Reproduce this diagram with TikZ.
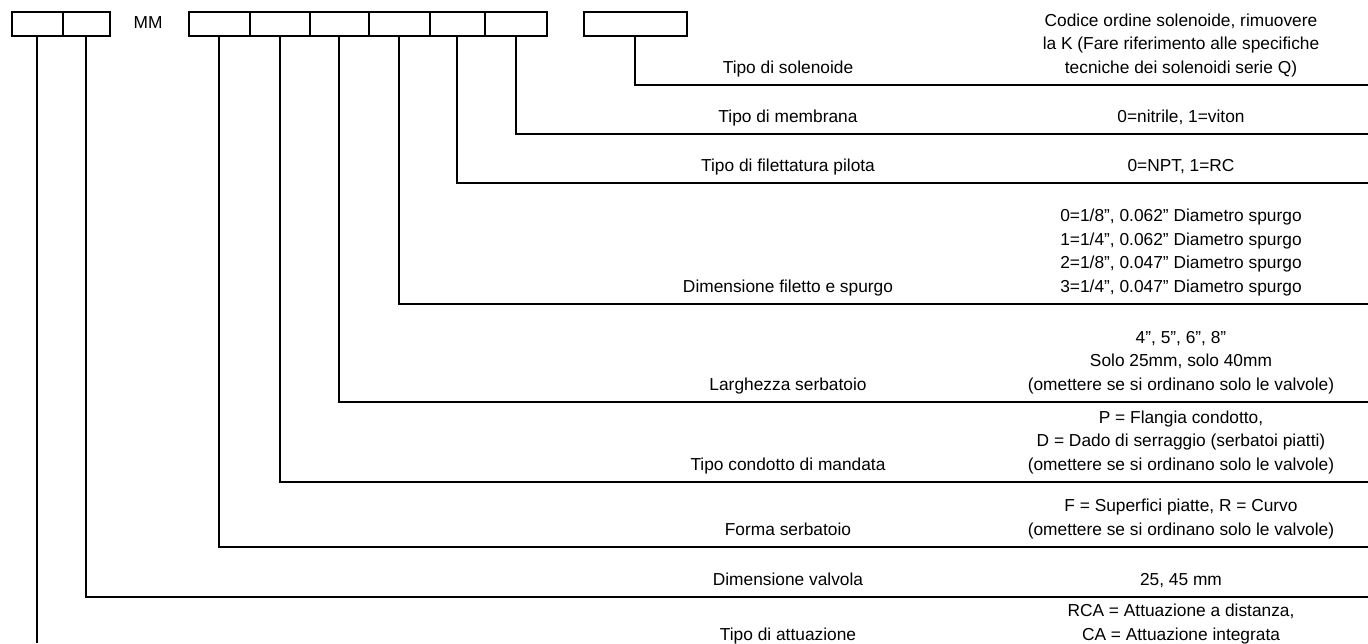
\documentclass[tikz,border=0pt]{standalone}
\usepackage{fontspec}
\setmainfont{Liberation Sans}
\usetikzlibrary{positioning}

\begin{document}
\begin{tikzpicture}[x=0.75pt, y=-0.75pt,
  cell/.style={draw, line width=1.3pt, minimum height=18pt, inner sep=0pt, anchor=north west},
  leg/.style={line width=1.6pt},
  txt/.style={font=\fontsize{13}{17.6}\selectfont, align=center, inner sep=0pt,
              anchor=south, execute at end node=\strut},
]
  \useasboundingbox (0,0) rectangle (1368,643);
  % --- caselle del codice ---
  \foreach \n/\x/\w in {a1/11/51, a2/62/47, b1/188/61, b2/249/60, b3/309/59,
                        b4/368/61, b5/429/55, b6/484/62, c/583/103}{
    \node[cell, minimum width=\w*0.75pt] (\n) at (\x,11) {};
  }
  \node[font=\fontsize{13}{15}\selectfont, inner sep=0pt] (mm) at (148,23) {MM};
  % --- linee di richiamo verso destra ---
  \foreach \n/\y in {c/85, b6/134, b5/183, b4/304, b3/402, b2/482, b1/547, a2/597}{
    \coordinate (r\n) at (1368,\y);
    \draw[leg] (\n.south) |- (r\n);
  }
  \coordinate (ra1) at (42,643);
  \draw[leg] (a1.south) -- (a1.south |- ra1);
  % --- testi: colonna sinistra ---
  \node[txt] (lc)  at (788,80.5)  {Tipo di solenoide};
  \node[txt] (lb6) at (788,129.5) {Tipo di membrana};
  \node[txt] (lb5) at (788,178.5) {Tipo di filettatura pilota};
  \node[txt] (lb4) at (788,299.5) {Dimensione filetto e spurgo};
  \node[txt] (lb3) at (788,397.5) {Larghezza serbatoio};
  \node[txt] (lb2) at (788,477.5) {Tipo condotto di mandata};
  \node[txt] (lb1) at (788,542.5) {Forma serbatoio};
  \node[txt] (la2) at (788,592.5) {Dimensione valvola};
  \node[txt] (la1) at (788,647.5) {Tipo di attuazione};
  % --- testi: colonna destra ---
  \node[txt] (dc)  at (1181,80.5)  {Codice ordine solenoide, rimuovere\\la K (Fare riferimento alle specifiche\\tecniche dei solenoidi serie Q)};
  \node[txt] (db6) at (1181,129.5) {0=nitrile, 1=viton};
  \node[txt] (db5) at (1181,178.5) {0=NPT, 1=RC};
  \node[txt] (db4) at (1181,299.5) {0=1/8”, 0.062” Diametro spurgo\\1=1/4”, 0.062” Diametro spurgo\\2=1/8”, 0.047” Diametro spurgo\\3=1/4”, 0.047” Diametro spurgo};
  \node[txt] (db3) at (1181,397.5) {4”, 5”, 6”, 8”\\Solo 25mm, solo 40mm\\(omettere se si ordinano solo le valvole)};
  \node[txt] (db2) at (1181,477.5) {P = Flangia condotto,\\D = Dado di serraggio (serbatoi piatti)\\(omettere se si ordinano solo le valvole)};
  \node[txt] (db1) at (1181,542.5) {F = Superfici piatte, R = Curvo\\(omettere se si ordinano solo le valvole)};
  \node[txt] (da2) at (1181,592.5) {25, 45 mm};
  \node[txt] (da1) at (1181,647.5) {RCA = Attuazione a distanza,\\CA = Attuazione integrata};
\end{tikzpicture}
\end{document}
